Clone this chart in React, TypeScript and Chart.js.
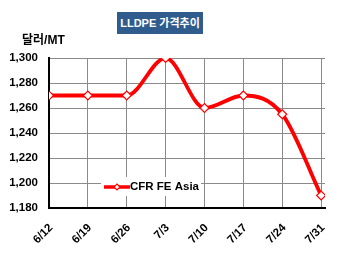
import React, { useEffect, useRef } from "react";
import { Chart, registerables } from "chart.js";

Chart.register(...registerables);

const categories = ["6/12", "6/19", "6/26", "7/3", "7/10", "7/17", "7/24", "7/31"];
const seriesLabel = "CFR FE Asia";
const values = [1270, 1270, 1270, 1300, 1260, 1270, 1255, 1190];
const yTicks = [1180, 1200, 1220, 1240, 1260, 1280, 1300];
const titleText = "LLDPE 가격추이";
const unitText = "달러/MT";

const FONT = "Arial, 'Liberation Sans', 'Noto Sans CJK KR', sans-serif";

const legendPlugin = {
  id: "insideLegend",
  afterDraw(chart: any) {
    const ctx = chart.ctx;
    const ds = chart.data.datasets[0];
    const x = 101;
    const y = 177;
    ctx.save();
    ctx.fillStyle = "#ffffff";
    ctx.fillRect(x, y, 100, 19);
    ctx.strokeStyle = "#ff0000";
    ctx.lineWidth = 3.5;
    ctx.beginPath();
    ctx.moveTo(x + 3, y + 10);
    ctx.lineTo(x + 29, y + 10);
    ctx.stroke();
    ctx.fillStyle = "#ffffff";
    ctx.lineWidth = 1.2;
    ctx.beginPath();
    const cx = x + 16, cy = y + 10, r = 3;
    ctx.moveTo(cx, cy - r);
    ctx.lineTo(cx + r, cy);
    ctx.lineTo(cx, cy + r);
    ctx.lineTo(cx - r, cy);
    ctx.closePath();
    ctx.fill();
    ctx.stroke();
    ctx.fillStyle = "#000000";
    ctx.font = "bold 11.5px " + FONT;
    ctx.textBaseline = "middle";
    ctx.textAlign = "left";
    ctx.fillText(ds.label, x + 29, y + 10);
    ctx.restore();
  },
};

export default function App() {
  const ref = useRef<HTMLCanvasElement | null>(null);
  useEffect(() => {
    if (!ref.current) return;
    const chart = new Chart(ref.current, {
      type: "line",
      data: {
        datasets: [
          {
            label: seriesLabel,
            data: values.map((v, i) => ({ x: i, y: v })),
            borderColor: "#ff0000",
            borderWidth: 3.8,
            cubicInterpolationMode: "monotone",
            pointStyle: "rectRot",
            pointRadius: 4.5,
            pointBackgroundColor: "#ffffff",
            pointBorderColor: "#ff0000",
            pointBorderWidth: 1.2,
            fill: false,
          },
        ],
      },
      options: {
        animation: false,
        responsive: false,
        layout: { padding: { left: 0, top: 58, right: 25, bottom: 0 } },
        plugins: {
          legend: { display: false },
          tooltip: { enabled: false },
          title: { display: false },
        },
        scales: {
          x: {
            type: "linear",
            min: 0,
            max: 7.1,
            afterFit(scale: any) {
              scale.height = 49;
            },
            afterBuildTicks(scale: any) {
              scale.ticks = categories.map((_, i) => ({ value: i }));
            },
            ticks: {
              callback: (v: any) => categories[v] ?? "",
              maxRotation: 45,
              minRotation: 45,
              autoSkip: false,
              color: "#000000",
              font: { family: FONT, size: 11.5, weight: "bold" },
              padding: 13,
              labelOffset: 2,
            },
            grid: {
              color: "#8a8a8a",
              lineWidth: 1,
              drawTicks: false,
            },
            border: { color: "#000000", width: 2 },
          },
          y: {
            min: 1180,
            max: 1300,
            afterFit(scale: any) {
              scale.width = 49;
            },
            afterBuildTicks(scale: any) {
              scale.ticks = yTicks.map((v) => ({ value: v }));
            },
            ticks: {
              callback: (v: any) => Number(v).toLocaleString("en-US"),
              color: "#000000",
              font: { family: FONT, size: 11.5, weight: "bold" },
              padding: 11,
            },
            grid: {
              color: "#8a8a8a",
              lineWidth: 1,
              drawTicks: false,
            },
            border: { color: "#000000", width: 2 },
          },
        },
      } as any,
      plugins: [legendPlugin],
    });
    return () => chart.destroy();
  }, []);

  return (
    <div style={{ position: "fixed", left: 0, top: 0, width: 350, height: 257, background: "#ffffff" }}>
      <canvas ref={ref} width={350} height={257} style={{ position: "absolute", left: 0, top: 0 }} />
      <div
        style={{
          position: "absolute",
          left: 117,
          top: 12,
          width: 86,
          height: 22,
          background: "#2f5b8d",
          color: "#ffffff",
          fontFamily: FONT,
          fontWeight: "bold",
          fontSize: 11,
          lineHeight: "22px",
          textAlign: "center",
          whiteSpace: "nowrap",
        }}
      >
        {titleText}
      </div>
      <div
        style={{
          position: "absolute",
          left: 22,
          top: 32,
          color: "#000000",
          fontFamily: FONT,
          fontWeight: "bold",
          fontSize: 12,
          lineHeight: "16px",
          whiteSpace: "nowrap",
        }}
      >
        {unitText}
      </div>
    </div>
  );
}
